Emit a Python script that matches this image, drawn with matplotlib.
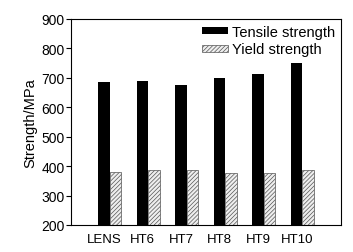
import numpy as np
import matplotlib
matplotlib.use("Agg")
import matplotlib.pyplot as plt

samples = ["LENS", "HT6", "HT7", "HT8", "HT9", "HT10"]
tensile = [687, 688, 675, 699, 713, 749]
yield_s = [380, 386, 387, 377, 377, 387]

plt.rcParams['font.family'] = ['Liberation Sans', 'DejaVu Sans']
plt.rcParams['hatch.color'] = '#666666'
plt.rcParams['hatch.linewidth'] = 0.5

fig = plt.figure(figsize=(3.53, 2.53), dpi=100)
ax = fig.add_axes([71 / 353, 1 - 226 / 253, 270 / 353, 206 / 253])

x = np.arange(len(samples))
w = 0.3
ax.bar(x - w / 2, tensile, w, color='black', label='Tensile strength')
ax.bar(x + w / 2, yield_s, w, facecolor='#eeeeee', edgecolor='#555555',
       linewidth=0.5, hatch='////////', label='Yield strength')

ax.set_xlim(-1, 6)
ax.set_ylim(200, 900)
ax.set_yticks(range(200, 901, 100))
# labels sit under the tensile bars
ax.set_xticks(x - w / 2)
ax.set_xticklabels(samples, fontsize=9.5)
ax.tick_params(axis='x', length=0, pad=6)
ax.tick_params(axis='y', length=3.5, width=0.8, direction='out', pad=1, labelsize=10)
ax.set_ylabel("Strength/MPa", fontsize=10.5, labelpad=3)
for s in ax.spines.values():
    s.set_linewidth(0.8)

ax.legend(loc='upper right', frameon=False, fontsize=10.5, handlelength=1.8,
          handleheight=0.35, handletextpad=0.25, labelspacing=0.25,
          borderaxespad=0.15, borderpad=0.25)

fig.savefig("out.png", dpi=100)
